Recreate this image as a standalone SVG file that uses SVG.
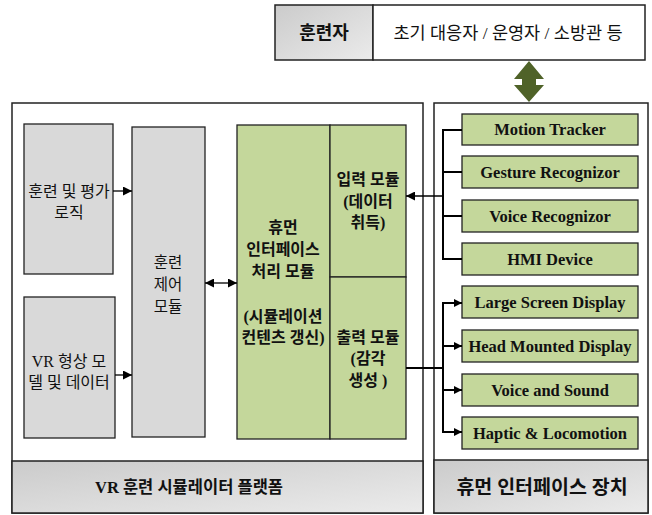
<svg xmlns="http://www.w3.org/2000/svg" width="652" height="515" viewBox="0 0 652 515">
<defs>
<linearGradient id="gray" x1="0" y1="0" x2="1" y2="1">
<stop offset="0" stop-color="#cbcbcb"/>
<stop offset="1" stop-color="#ebebeb"/>
</linearGradient>
<marker id="ah" viewBox="0 0 10 10" refX="10" refY="5" markerWidth="8" markerHeight="8" markerUnits="userSpaceOnUse" orient="auto-start-reverse">
<path d="M0,0 L10,5 L0,10 Z" fill="#000"/>
</marker>
<marker id="ah2" viewBox="0 0 10 10" refX="10" refY="5" markerWidth="10" markerHeight="9" markerUnits="userSpaceOnUse" orient="auto-start-reverse">
<path d="M0,0 L10,5 L0,10 Z" fill="#000"/>
</marker>
</defs>
<style>
.frame{fill:#fff;stroke:#222;stroke-width:1.5}
.band{fill:url(#gray);stroke:#222;stroke-width:1.5}
.gbox{fill:#d9d9d9;stroke:#222;stroke-width:1.3}
.green{fill:#c4d79b;stroke:#222;stroke-width:1.3}
.kr{font-family:"Liberation Serif","Noto Sans CJK KR",sans-serif;fill:#111;text-anchor:middle}
.krb{font-family:"Liberation Serif","Noto Sans CJK KR",sans-serif;fill:#111;text-anchor:middle;font-weight:bold}
.en{font-family:"Liberation Serif",serif;font-weight:bold;font-size:16.5px;fill:#111;text-anchor:middle}
.ln{stroke:#000;stroke-width:1.3;fill:none}
.br{stroke:#000;stroke-width:2;fill:none}
</style>

<g id="trainee">
<rect x="275" y="5" width="98" height="55" class="band"/>
<rect x="373" y="5" width="272" height="55" class="frame"/>
<text x="324" y="39" class="krb" font-size="18">훈련자</text>
<text x="508" y="39" class="kr" font-size="17.5">초기 대응자 / 운영자 / 소방관 등</text>
</g>

<g id="platform">
<rect x="12" y="103" width="411" height="410" class="frame"/>
<rect x="12" y="461" width="411" height="52" class="band"/>
<text x="189" y="493" class="krb" font-size="16.5">VR 훈련 시뮬레이터 플랫폼</text>
</g>

<g id="hi-device">
<rect x="434" y="103" width="214" height="410" class="frame"/>
<rect x="434" y="460" width="214" height="53" class="band"/>
<text x="542" y="494" class="krb" font-size="19.5">휴먼 인터페이스 장치</text>
</g>

<g id="eval-logic">
<rect x="24" y="124" width="89" height="150" class="gbox"/>
<text x="69" y="197" class="kr" font-size="16">훈련 및 평가</text>
<text x="69" y="218" class="kr" font-size="16">로직</text>
</g>

<g id="vr-model">
<rect x="24" y="297" width="91" height="141" class="gbox"/>
<text x="69" y="367" class="kr" font-size="16">VR 형상 모</text>
<text x="69" y="388" class="kr" font-size="16">델 및 데이터</text>
</g>

<g id="control">
<rect x="132" y="127" width="73" height="310" class="gbox"/>
<text x="168" y="268" class="kr" font-size="15.5">훈련</text>
<text x="168" y="290" class="kr" font-size="15.5">제어</text>
<text x="168" y="312" class="kr" font-size="15.5">모듈</text>
</g>

<g id="hi-processing">
<rect x="237" y="125" width="93" height="314" class="green"/>
<text x="283" y="233" class="krb" font-size="16">휴먼</text>
<text x="283" y="255" class="krb" font-size="16">인터페이스</text>
<text x="283" y="277" class="krb" font-size="16">처리 모듈</text>
<text x="283" y="322" class="krb" font-size="16">(시뮬레이션</text>
<text x="283" y="343" class="krb" font-size="16">컨텐츠 갱신)</text>
</g>

<g id="input-module">
<rect x="330" y="125" width="76" height="152" class="green"/>
<text x="368" y="185" class="krb" font-size="16">입력 모듈</text>
<text x="368" y="207" class="krb" font-size="16">(데이터</text>
<text x="368" y="228" class="krb" font-size="16">취득)</text>
</g>

<g id="output-module">
<rect x="330" y="277" width="76" height="162" class="green"/>
<text x="368" y="343" class="krb" font-size="16">출력 모듈</text>
<text x="368" y="364" class="krb" font-size="16">(감각</text>
<text x="368" y="386" class="krb" font-size="16">생성 )</text>
</g>

<g id="motion-tracker"><rect x="462" y="114" width="176" height="31" class="green"/><text x="550" y="135" class="en">Motion Tracker</text></g>
<g id="gesture-recognizor"><rect x="462" y="156" width="176" height="32" class="green"/><text x="550" y="178" class="en">Gesture Recognizor</text></g>
<g id="voice-recognizor"><rect x="462" y="200" width="176" height="32" class="green"/><text x="550" y="222" class="en">Voice Recognizor</text></g>
<g id="hmi-device"><rect x="462" y="243" width="176" height="32" class="green"/><text x="550" y="265" class="en">HMI Device</text></g>
<g id="large-screen"><rect x="462" y="286" width="176" height="32" class="green"/><text x="550" y="308" class="en">Large Screen Display</text></g>
<g id="hmd"><rect x="462" y="330" width="176" height="32" class="green"/><text x="550" y="352" class="en">Head Mounted Display</text></g>
<g id="voice-sound"><rect x="462" y="374" width="176" height="32" class="green"/><text x="550" y="396" class="en">Voice and Sound</text></g>
<g id="haptic"><rect x="462" y="417" width="176" height="32" class="green"/><text x="550" y="439" class="en">Haptic &amp; Locomotion</text></g>

<g id="connectors">
<polygon points="529,61 544,79 536,79 536,85 544,85 529,102 514,85 522,85 522,79 514,79" fill="#4f6228"/>
<line x1="113" y1="191" x2="132" y2="191" class="ln" marker-end="url(#ah2)"/>
<line x1="115" y1="375" x2="132" y2="375" class="ln" marker-end="url(#ah2)"/>
<line x1="205" y1="283" x2="237" y2="283" class="ln" marker-start="url(#ah2)" marker-end="url(#ah2)"/>
<path d="M462,130 H443 V259 H462 M443,172 H462 M443,216 H462" class="br"/>
<line x1="443" y1="196" x2="406" y2="196" class="ln" marker-end="url(#ah2)"/>
<line x1="406" y1="368" x2="443" y2="368" class="br"/>
<path d="M443,303 V432" class="br"/>
<line x1="442" y1="303" x2="462" y2="303" class="br" marker-end="url(#ah)"/>
<line x1="442" y1="346" x2="462" y2="346" class="br" marker-end="url(#ah)"/>
<line x1="442" y1="390" x2="462" y2="390" class="br" marker-end="url(#ah)"/>
<line x1="442" y1="432" x2="462" y2="432" class="br" marker-end="url(#ah)"/>
</g>
</svg>
